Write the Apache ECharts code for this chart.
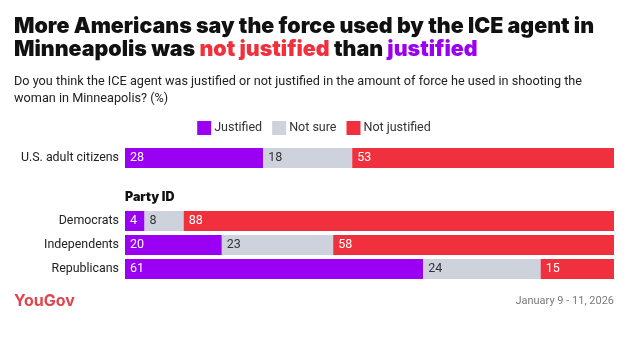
<!DOCTYPE html>
<html>
<head>
<meta charset="utf-8">
<script src="https://cdn.jsdelivr.net/npm/echarts@6/dist/echarts.min.js"></script>
<style>
  html, body { margin: 0; padding: 0; background: #fff; }
  #chart { width: 628px; height: 341px; }
</style>
</head>
<body>
<div id="chart"></div>
<script>
// Survey results (%), raw values as published
const overallLabel = ['U.S. adult citizens'];
const overallJustified = [28];
const overallNotSure = [18];
const overallNotJustified = [53];

const partyLabels = ['Democrats', 'Independents', 'Republicans'];
const partyJustified = [4, 20, 61];
const partyNotSure = [8, 23, 24];
const partyNotJustified = [88, 58, 15];

const seriesNames = ['Justified', 'Not sure', 'Not justified'];
const colors = { 'Justified': '#9a00f2', 'Not sure': '#cdd2dc', 'Not justified': '#f0303c' };
const labelColors = { 'Justified': '#ffffff', 'Not sure': '#333333', 'Not justified': '#ffffff' };

// Each row is scaled to fill the full width (shares of the row total)
function shares(parts) {
  const n = parts[0].length;
  const totals = [];
  for (let i = 0; i < n; i++) totals.push(parts.reduce((s, p) => s + p[i], 0));
  return parts.map(p => p.map((v, i) => ({ value: v / totals[i] * 100, raw: v })));
}

const overallShares = shares([overallJustified, overallNotSure, overallNotJustified]);
const partyShares = shares([partyJustified, partyNotSure, partyNotJustified]);

const FONT = 'Roboto, "Noto Sans", sans-serif';

function makeSeries(sharesArr, gridIdx) {
  return seriesNames.map((name, k) => ({
    name: name,
    type: 'bar',
    stack: 'g' + gridIdx,
    xAxisIndex: gridIdx,
    yAxisIndex: gridIdx,
    barWidth: 20,
    data: sharesArr[k],
    itemStyle: { color: colors[name] },
    emphasis: { disabled: true },
    label: {
      show: true,
      position: 'insideLeft',
      distance: 5,
      color: labelColors[name],
      fontFamily: FONT,
      fontSize: 12.5,
      formatter: p => String(p.data.raw)
    }
  }));
}

const chart = echarts.init(document.getElementById('chart'), null, { renderer: 'canvas' });

const titleFont = { fontFamily: 'Inter', fontWeight: 900, fontSize: 21.4, lineHeight: 23.5 };

chart.setOption({
  animation: false,
  backgroundColor: '#ffffff',
  title: [
    {
      left: 14, top: 14.5, padding: 0,
      text: '{b|More Americans say the force used by the ICE agent in}\n{b|Minneapolis was }{r|not justified}{b| than }{p|justified}',
      textStyle: {
        rich: {
          b: Object.assign({ color: '#111111' }, titleFont),
          r: Object.assign({ color: '#f0303c' }, titleFont),
          p: Object.assign({ color: '#9a00f2' }, titleFont)
        }
      }
    },
    {
      left: 14, top: 73.5, padding: 0,
      text: 'Do you think the ICE agent was justified or not justified in the amount of force he used in shooting the\nwoman in Minneapolis? (%)',
      textStyle: { fontFamily: FONT, fontWeight: 400, fontSize: 12.7, color: '#222222', lineHeight: 17 }
    },
    {
      left: 125, top: 191, padding: 0,
      text: 'Party ID',
      textStyle: { fontFamily: 'Inter', fontWeight: 900, fontSize: 12.5, color: '#111111' }
    },
    {
      left: 14, top: 293, padding: 0,
      text: 'YouGov',
      textStyle: { fontFamily: 'Inter', fontWeight: 700, fontSize: 16, color: '#e0454c', letterSpacing: -1 }
    },
    {
      right: 14, top: 296, padding: 0,
      text: 'January 9 - 11, 2026',
      textStyle: { fontFamily: FONT, fontWeight: 400, fontSize: 11, color: '#7a7a7a' }
    }
  ],
  legend: {
    data: seriesNames,
    left: 'center',
    top: 116,
    itemWidth: 14,
    itemHeight: 14,
    itemGap: 10,
    icon: 'rect',
    selectedMode: false,
    textStyle: { fontFamily: FONT, fontSize: 12.5, color: '#333333', padding: [0, 0, 0, -2] }
  },
  grid: [
    { left: 125, right: 14, top: 148, height: 20, containLabel: false },
    { left: 125, right: 14, top: 209, height: 72, containLabel: false }
  ],
  xAxis: [0, 1].map(i => ({
    type: 'value', gridIndex: i, min: 0, max: 100, show: false
  })),
  yAxis: [
    { type: 'category', gridIndex: 0, data: overallLabel, inverse: true },
    { type: 'category', gridIndex: 1, data: partyLabels, inverse: true }
  ].map(a => Object.assign(a, {
    axisLine: { show: false },
    axisTick: { show: false },
    axisLabel: { fontFamily: FONT, fontSize: 12.4, color: '#222222', margin: 6 }
  })),
  series: [...makeSeries(overallShares, 0), ...makeSeries(partyShares, 1)]
});
</script>
</body>
</html>
